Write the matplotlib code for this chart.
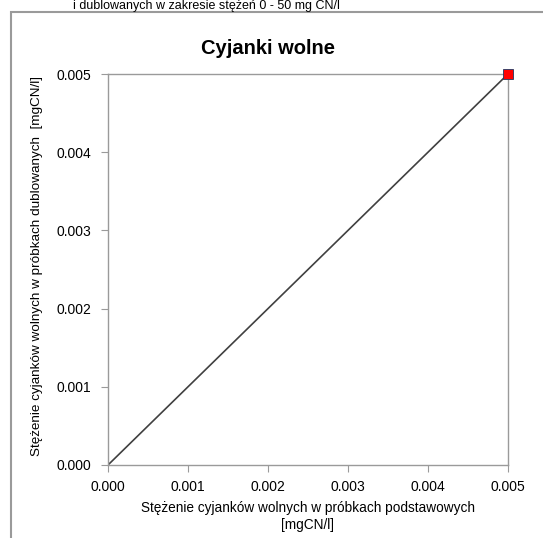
import matplotlib
matplotlib.use("Agg")
import matplotlib.pyplot as plt
from matplotlib.patches import Rectangle

plt.rcParams['font.family'] = ['Liberation Sans', 'DejaVu Sans']

# Data
x_points = [0.005]
y_points = [0.005]
ref_line = [0.0, 0.005]
x_ticks = [0.000, 0.001, 0.002, 0.003, 0.004, 0.005]
y_ticks = [0.000, 0.001, 0.002, 0.003, 0.004, 0.005]
title = "Cyjanki wolne"
xlabel = "Stężenie cyjanków wolnych w próbkach podstawowych\n[mgCN/l]"
ylabel = "Stężenie cyjanków wolnych w próbkach dublowanych  [mgCN/l]"
top_text = "i dublowanych w zakresie stężeń 0 - 50 mg CN/l"

W, H = 543, 538
fig = plt.figure(figsize=(W/100, H/100), dpi=100)
fig.patch.set_facecolor('white')

# outer chart frame
fig.patches.append(Rectangle((11/W, -0.1), 1.2, (H-12)/H + 0.1, transform=fig.transFigure,
                             fill=False, edgecolor='#9a9a9a', linewidth=1.5))

ax = fig.add_axes([108/W, 1-465/H, 400/W, 391/H])
ax.plot(ref_line, ref_line, color='#404040', linewidth=1.2, zorder=2)
ax.plot(x_points, y_points, linestyle='none', marker='s', markersize=6.5,
        markerfacecolor='#ff0000', markeredgecolor='#1f3864', markeredgewidth=0.6,
        zorder=3, clip_on=False)
ax.set_xlim(0, 0.005)
ax.set_ylim(0, 0.005)
ax.set_xticks(x_ticks)
ax.set_yticks(y_ticks)
ax.set_xticklabels([f"{v:.3f}" for v in x_ticks])
ax.set_yticklabels([f"{v:.3f}" for v in y_ticks])
for s in ax.spines.values():
    s.set_color('#9a9a9a')
    s.set_linewidth(1.0)
ax.tick_params(direction='out', length=5, color='#9a9a9a', labelsize=10, labelcolor='black', pad=6)
ax.tick_params(axis='y', pad=7)

ax.set_xlabel(xlabel, fontsize=9.8, labelpad=5, linespacing=1.25)
fig.text(37/W, 1-266/H, ylabel, rotation=90, ha='center', va='center', fontsize=9.7)
fig.text(268/W, 1-48/H, title, ha='center', va='center', fontsize=14.5, fontweight='bold')
fig.text(206/W, 1-0.5/H, top_text, ha='center', va='top', fontsize=9.0)

fig.savefig("out.png", dpi=100)
